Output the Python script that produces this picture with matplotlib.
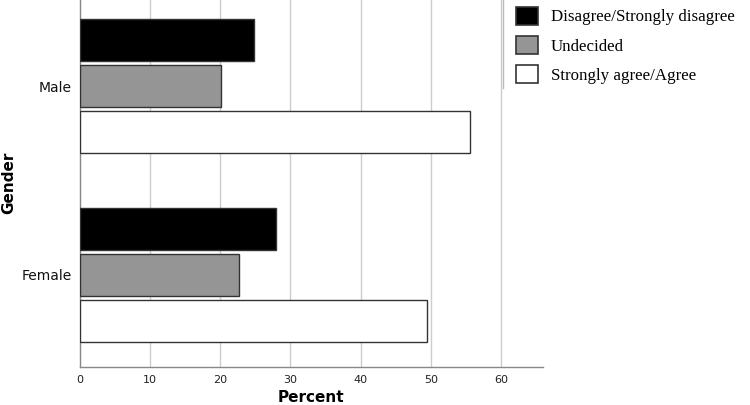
import matplotlib
matplotlib.use("Agg")
import matplotlib.pyplot as plt
from matplotlib.patches import Patch
import numpy as np

categories = ["Female", "Male"]
series = ["Disagree/Strongly disagree", "Undecided", "Strongly agree/Agree"]
disagree = [28.0, 24.8]
undecided = [22.7, 20.1]
agree = [49.5, 55.6]
xticks = [0, 10, 20, 30, 40, 50, 60]
colors = ["#000000", "#959595", "#ffffff"]

fig = plt.figure(figsize=(7.5, 4.05), dpi=100)
ax = fig.add_axes([80/750, 38/405, (543-80)/750, (405-38)/405])

y = np.arange(len(categories))
h = 0.223
off = 0.245
vals = [disagree, undecided, agree]
for i, (v, c) in enumerate(zip(vals, colors)):
    ax.barh(y + off * (1 - i), v, height=h, color=c, edgecolor="#333333",
            linewidth=1.0, zorder=3)

ax.set_xlim(0, 66)
ax.set_ylim(-0.489, 1.457)
ax.set_xticks(xticks)
ax.set_xticklabels([str(t) for t in xticks], fontsize=8, color="#222222")
ax.set_yticks(y)
ax.set_yticklabels(categories, fontsize=10, color="#111111")
ax.tick_params(length=0, pad=6)
ax.xaxis.grid(True, color="#cccccc", linewidth=1.0, zorder=0)
for t in ax.xaxis.get_gridlines()[:1]:
    t.set_visible(False)
for s in ["top", "right"]:
    ax.spines[s].set_visible(False)
for s in ["left", "bottom"]:
    ax.spines[s].set_color("#888888")
    ax.spines[s].set_linewidth(1.0)

fig.text(311/750, 1 - 398/405, "Percent", fontsize=11, fontweight="bold",
         ha="center", va="center")
fig.text(9/750, 1 - 183/405, "Gender", fontsize=11, fontweight="bold",
         ha="center", va="center", rotation=90)

handles = [Patch(facecolor=c, edgecolor="#333333", linewidth=1.2) for c in colors]
leg = fig.legend(handles, series, loc="upper left", bbox_to_anchor=(509/750, 1.0),
                 frameon=False, prop={"family": "Liberation Serif", "size": 12.2},
                 handlelength=1.3, handleheight=1.25, handletextpad=0.75,
                 labelspacing=0.62, borderaxespad=0.0)
fig.add_artist(plt.Line2D([503/750, 503/750], [1 - 88/405, 1.0], color="#bbbbbb",
                          linewidth=1.0, transform=fig.transFigure))

fig.savefig("out.png", dpi=100)
